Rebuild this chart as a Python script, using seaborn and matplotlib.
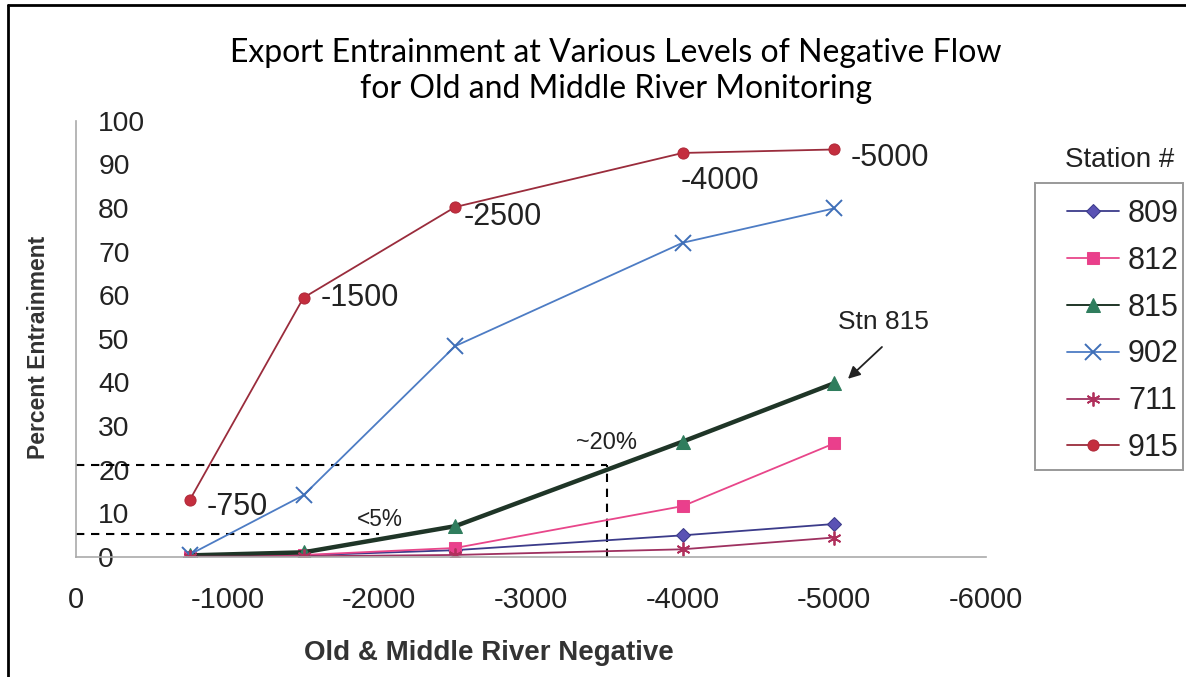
import matplotlib
matplotlib.use("Agg")
import matplotlib.pyplot as plt
from matplotlib.lines import Line2D
from matplotlib.patches import Rectangle
import seaborn as sns
import pandas as pd

# ---- data ----
flow = [-750, -1500, -2500, -4000, -5000]
stations = ["809", "812", "815", "902", "711", "915"]
stn_809 = [0.0, 0.3, 1.5, 4.9, 7.5]
stn_812 = [0.0, 0.4, 2.0, 11.6, 26.0]
stn_815 = [0.3, 1.0, 7.0, 26.4, 39.8]
stn_902 = [0.5, 14.1, 48.3, 72.0, 79.9]
stn_711 = [0.0, 0.1, 0.4, 1.7, 4.4]
stn_915 = [13.0, 59.4, 80.2, 92.6, 93.4]
x_ticks = [0, -1000, -2000, -3000, -4000, -5000, -6000]
y_ticks = [0, 10, 20, 30, 40, 50, 60, 70, 80, 90, 100]
ref20_y, ref20_x = 21.0, -3500
ref5_y, ref5_x = 5.3, -2000

series = {"809": stn_809, "812": stn_812, "815": stn_815,
          "902": stn_902, "711": stn_711, "915": stn_915}

sns.set_style("white")
plt.rcParams["font.family"] = ["Liberation Sans", "DejaVu Sans"]

W, H = 1186, 677
fig = plt.figure(figsize=(W / 100, H / 100), dpi=100)
ax = fig.add_axes([76 / W, 1 - 556.7 / H, 910 / W, 436 / H])

styles = {
    "809": dict(color="#3b3b8a", marker="D", markersize=7, markerfacecolor="#5a52b4",
                markeredgecolor="#3b3b8a", lw=1.3),
    "812": dict(color="#e8468a", marker="s", markersize=8, markerfacecolor="#ea3f8c",
                markeredgecolor="#e8468a", lw=1.3),
    "815": dict(color="#1f3527", marker="^", markersize=10, markerfacecolor="#2f7d5d",
                markeredgecolor="#2f7d5d", lw=3.2),
    "902": dict(color="#4d7cc4", marker="x", markersize=11, markeredgewidth=1.4,
                markeredgecolor="#3f6fb8", lw=1.3),
    "711": dict(color="#9e3160", marker=(6, 2, 0), markersize=10, markeredgewidth=1.3,
                markeredgecolor="#b0305c", lw=1.3),
    "915": dict(color="#9a2c3c", marker="o", markersize=8, markerfacecolor="#c42e3e",
                markeredgecolor="#b02a3a", lw=1.3),
}

for name in stations:
    df = pd.DataFrame({"flow": flow, "pct": series[name]})
    sns.lineplot(data=df, x="flow", y="pct", ax=ax, label=name, **styles[name])

# reference dashed lines
dash = dict(color="black", lw=1.5, ls=(0, (4, 3.2)), zorder=1)
ax.plot([0, ref20_x], [ref20_y, ref20_y], **dash)
ax.plot([ref20_x, ref20_x], [0, ref20_y], **dash)
ax.plot([0, ref5_x], [ref5_y, ref5_y], **dash)

ax.set_xlim(0, -6000)
ax.set_ylim(0, 100)
ax.set_xticks(x_ticks)
ax.set_xticklabels([str(v) for v in x_ticks], fontsize=21, color="#222222")
ax.set_yticks(y_ticks)
ax.set_yticklabels([str(v) for v in y_ticks], fontsize=20.3, color="#222222", ha="left")
ax.tick_params(axis="y", direction="in", length=7, width=1, color="#999999", pad=-16)
ax.tick_params(axis="x", direction="out", length=5, width=1, color="#999999", pad=16)

for s in ["top", "right"]:
    ax.spines[s].set_visible(False)
for s in ["left", "bottom"]:
    ax.spines[s].set_color("#aaaaaa")
    ax.spines[s].set_linewidth(1.2)

ax.set_ylabel("Percent Entrainment", fontsize=16.5, fontweight="bold", color="#333333")
ax.yaxis.set_label_coords(-0.029, 0.48)
ax.set_xlabel("Old & Middle River Negative", fontsize=20, fontweight="bold", color="#333333")
ax.xaxis.set_label_coords(0.454, -0.19)

# flow labels next to station 915 points (pixel offsets: right, up)
offsets = [(17, -7), (17, 0), (8, -10), (-2, -28), (16, -9)]
for xv, yv, off in zip(flow, stn_915, offsets):
    ax.annotate(str(xv), (xv, yv), xytext=off, textcoords="offset pixels",
                ha="left", va="center", fontsize=22, color="#222222")

ax.text(-2004, 8.6, "<5%", fontsize=16.3, ha="center", va="center", color="#222222")
ax.text(-3500, 26.1, "~20%", fontsize=17, ha="center", va="center", color="#222222")
ax.text(-5321, 53.8, "Stn 815", fontsize=19, ha="center", va="center", color="#222222")
ax.annotate("", xy=(-5090, 40.8), xytext=(-5314, 48.1),
            arrowprops=dict(arrowstyle="-|>", color="#222222", lw=1.3,
                            mutation_scale=18, shrinkA=0, shrinkB=0))

# legend
ax.legend_.remove()
handles, labels = ax.get_legend_handles_labels()
leg = fig.legend(handles, labels, loc="upper left",
                 bbox_to_anchor=(1067 / W, 1 - 199 / H), borderaxespad=0,
                 fontsize=22, frameon=False, handlelength=1.7,
                 handletextpad=0.3, labelspacing=0.55, borderpad=0)
for t in leg.get_texts():
    t.set_color("#222222")
leg.get_lines()[2].set_linewidth(1.4)
fig.add_artist(Rectangle((1035 / W, 1 - 470 / H), (1183 - 1035) / W, (470 - 183) / H,
                         transform=fig.transFigure, fill=False, edgecolor="#999999", lw=1.4))
fig.text(1120 / W, 1 - 160 / H, "Station #", fontsize=20, ha="center", va="center",
         color="#222222")

# title
fig.text(616 / W, 1 - 71.5 / H,
         "Export Entrainment at Various Levels of Negative Flow\nfor Old and Middle River Monitoring",
         fontsize=23, ha="center", va="center", linespacing=1.25, color="black",
         family=["Lato", "DejaVu Sans"])

# page frame (scan border)
fig.add_artist(Line2D([7.5 / W, 7.5 / W], [0, 1 - 5 / H], transform=fig.transFigure,
                      color="black", lw=2))
fig.add_artist(Line2D([7.5 / W, 1], [1 - 5 / H, 1 - 5 / H], transform=fig.transFigure,
                      color="black", lw=2))

fig.savefig("out.png", dpi=100)
